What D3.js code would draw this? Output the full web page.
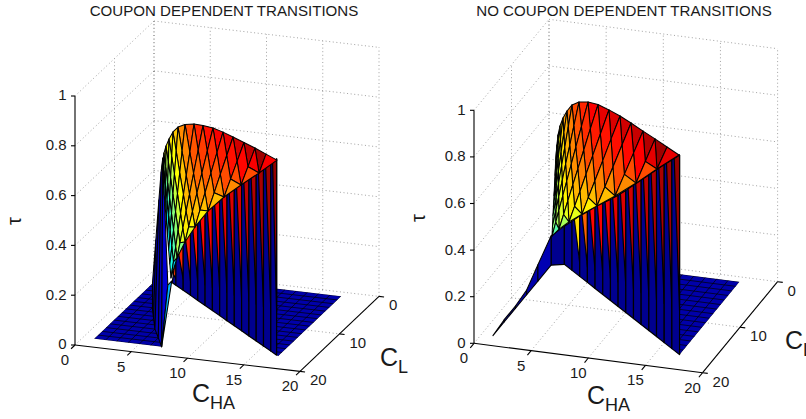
<!DOCTYPE html>
<html>
<head>
<meta charset="utf-8">
<script src="https://d3js.org/d3.v7.min.js"></script>
<style>
  body { margin: 0; background: #fff; }
  text { font-family: "Liberation Sans", Arial, sans-serif; fill: #1a1a1a; }
</style>
</head>
<body>
<svg id="chart" width="806" height="419"></svg>
<script>
const chaTicks = [0, 5, 10, 15, 20]
const clTicks = [0, 10, 20]
const tauTicks = [0, 0.2, 0.4, 0.6, 0.8, 1]

const sheetCL = 3
const leftSheetCHA = [
  [11.99],
  [11.01, 10.39],
  [10.03, 9.41, 8.79],
  [9.05, 8.44, 7.86, 7.28],
  [8.08, 7.52, 6.95, 6.40, 5.85],
  [7.19, 6.65, 6.11, 5.59, 5.14, 4.70],
  [6.30, 5.79, 5.31, 4.87, 4.47, 4.14, 3.81],
  [5.41, 4.98, 4.57, 4.21, 3.91, 3.62, 3.36, 3.10],
  [4.61, 4.24, 3.92, 3.67, 3.42, 3.20, 2.98, 2.78, 2.56],
  [3.81, 3.55, 3.34, 3.14, 2.97, 2.79, 2.64, 2.46],
  [3.19, 3.03, 2.87, 2.74, 2.61, 2.49, 2.36],
  [2.74, 2.63, 2.53, 2.44, 2.36, 2.26],
  [2.39, 2.33, 2.27, 2.22, 2.16],
  [2.12, 2.10, 2.08, 2.06],
  [1.94, 1.95, 1.96],
  [1.85, 1.86],
  [1.76]
]
const leftSheetTau = [
  [.550],
  [.569, .490],
  [.588, .510, .433],
  [.605, .526, .452, .377],
  [.622, .545, .466, .389, .313],
  [.637, .552, .467, .385, .313, .243],
  [.649, .553, .462, .380, .303, .241, .178],
  [.654, .553, .457, .371, .302, .232, .172, .110],
  [.656, .541, .445, .367, .289, .222, .153, .092, .027],
  [.650, .541, .453, .368, .294, .220, .154, .082],
  [.636, .538, .445, .364, .286, .216, .137],
  [.614, .515, .428, .347, .275, .192],
  [.584, .491, .407, .335, .247],
  [.554, .468, .395, .303],
  [.525, .454, .358],
  [.497, .413],
  [.468]
]
const leftRimHeat = [1, .97, .94, .92, .9, .88, .86, .84, .8, .74, .68, .65, .63, .62, .62, .61, .6]
const leftFrontHeat = [1, .88, .8, .74, .69, .64, .6, .5, .34, .33, .32, .31, .31, .3, .3, .3, .3]

const rightSheetCHA = [
  [12.36],
  [11.31, 10.43],
  [10.26, 9.41, 8.60],
  [9.21, 8.38, 7.58, 6.76],
  [8.16, 7.38, 6.58, 5.87, 5.18],
  [7.20, 6.41, 5.68, 4.99, 4.42, 3.87],
  [6.23, 5.48, 4.80, 4.22, 3.69, 3.22, 2.73],
  [5.27, 4.60, 4.02, 3.51, 3.07, 2.63, 2.26, 1.86],
  [4.40, 3.82, 3.33, 2.93, 2.53, 2.19, 1.84, 1.57, 1.25],
  [3.61, 3.16, 2.80, 2.44, 2.14, 1.83, 1.59, 1.29],
  [3.00, 2.67, 2.36, 2.09, 1.82, 1.61, 1.33],
  [2.56, 2.28, 2.04, 1.81, 1.62, 1.38],
  [2.21, 1.99, 1.79, 1.64, 1.42],
  [1.95, 1.78, 1.66, 1.47],
  [1.77, 1.68, 1.51],
  [1.68, 1.55],
  [1.60]
]
const rightSheetTau = [
  [.554],
  [.582, .482],
  [.610, .508, .410],
  [.637, .537, .441, .343],
  [.665, .567, .466, .376, .290],
  [.689, .585, .487, .396, .321, .247],
  [.709, .601, .503, .420, .343, .276, .206],
  [.726, .617, .522, .439, .368, .296, .235, .170],
  [.731, .622, .531, .454, .379, .315, .249, .197, .136],
  [.726, .621, .535, .452, .380, .307, .250, .180],
  [.710, .614, .523, .444, .365, .303, .224],
  [.681, .585, .499, .417, .353, .268],
  [.649, .556, .471, .405, .311],
  [.613, .525, .459, .355],
  [.573, .511, .399],
  [.530, .443],
  [.486]
]
const rightRimHeat = [1, .97, .95, .93, .92, .91, .9, .88, .84, .8, .76, .72, .68, .65, .63, .6, .58]
const rightFrontHeat = [1, .9, .8, .74, .69, .64, .6, .54, .46, .45, .44, .44, .43, .43, .42, .42, .42]

// wall under the front edge
const leftWallCHA = [2.5, 3, 4, 5, 6, 7, 8, 9, 10, 11, 12, 13, 14, 15, 16, 16.8]
const leftWallCL = [2.5, 3, 4, 5, 6, 7, 8, 9, 10, 11, 12, 13, 14, 15, 16, 16.8]
const leftWallTau = [0, .121, .198, .258, .315, .375, .42, .47, .515, .557, .594, .638, .673, .713, .755, .788]
const leftWallHeat = [.8, .82, .84, .85, .86, .87, .88, .89, .9, .91, .92, .94, .95, .96, .97, .98]

const rightWallCHA = [1, 2, 3, 4, 5, 6, 7, 8, 9, 10, 11, 12, 13, 14, 15, 16, 17]
const rightWallCL = [2.5, 2, 3, 4, 5, 6, 7, 8, 9, 10, 11, 12, 13, 14, 15, 16, 17]
const rightWallTau = [.125, .164, .211, .26, .303, .351, .392, .433, .477, .524, .572, .62, .668, .716, .764, .81, .857]
const rightWallHeat = [0, 0, 0, .66, .78, .87, .88, .89, .9, .91, .92, .93, .94, .95, .96, .97, .98]

// steep blue strips between the floor and the sheet
const leftCurtainCHA = [3.2, 4, 5, 6, 7, 7, 7]
const leftCurtainCL = [9.5, 11.5, 14, 16, 18, 18, 18]
const leftCurtainTopCHA = [3.2, 4.2, 5.35, 6.25, 7.1, 7.55, 7.9]
const leftCurtainTopTau = [.108, .316, .52, .668, .758, .25, .269]
const leftCurtainHeat = [.02, .03, .04, .05, .08, .3]

const rightCurtainCHA = [1, 1, 1, 1, 1, 1]
const rightCurtainCL = [18, 15, 12, 9, 6, 2.5]
const rightCurtainTopCHA = [1, 1, 1, 1, 1, 1]
const rightCurtainTopTau = [0, .01, .01, .02, .07, .125]
const rightCurtainHeat = [.02, .02, .02, .03, .04]

// floor outlines, [CHA, CL]
const leftFloors = [[[1, 18], [7, 18], [3.2, 9.5], [1, 3]], [[17, 17], [17, 1], [11, 1], [11, 11]]]
const rightFloors = [[[17, 17], [17, 1], [11, 1], [11, 11]]]

const redStart = 0.22 // red wedges stop this share of the way up the wall
const redWidth = 0.7 // and take up this share of a step at the top

const jet = d3.scaleLinear()
  .domain([0, .125, .375, .625, .875, 1])
  .range(['#00008f', '#0000ff', '#00ffff', '#ffff00', '#ff0000', '#800000'])
  .clamp(true)

const svg = d3.select('#chart')

function drawPanel(p) {
  const g = svg.append('g')

  // projected axes, all measured from CHA=0, CL=20, tau=0
  const xA = d3.scaleLinear().domain([0, 20]).range([0, p.chaVec[0]])
  const yA = d3.scaleLinear().domain([0, 20]).range([0, p.chaVec[1]])
  const xC = d3.scaleLinear().domain([20, 0]).range([0, p.clVec[0]])
  const yC = d3.scaleLinear().domain([20, 0]).range([0, p.clVec[1]])
  const yT = d3.scaleLinear().domain([0, 1]).range([0, -p.tauLen])
  const pt = (a, c, t) => [p.origin[0] + xA(a) + xC(c), p.origin[1] + yA(a) + yC(c) + yT(t)]
  const line = d3.line()
  const closed = d3.line().curve(d3.curveLinearClosed)

  // gridlines on the walls and the floor
  const grid = g.append('g').attr('fill', 'none').attr('stroke', '#8a8a8a')
    .attr('stroke-width', 0.8).attr('stroke-dasharray', '1 2.6')
  const gridLine = (a, b) => grid.append('path').attr('d', line([a, b]))
  tauTicks.forEach(t => {
    gridLine(pt(0, 20, t), pt(0, 0, t))
    gridLine(pt(0, 0, t), pt(20, 0, t))
  })
  chaTicks.forEach(a => {
    if (a > 0) gridLine(pt(a, 0, 0), pt(a, 0, 1))
    if (a > 0) gridLine(pt(a, 20, 0), pt(a, 0, 0))
  })
  gridLine(pt(0, 10, 0), pt(0, 10, 1))
  gridLine(pt(0, 10, 0), pt(20, 10, 0))
  grid.append('path').attr('d', line([pt(0, 0, 0), pt(0, 0, 1)])).attr('stroke', '#333')

  // floor
  p.floors.forEach((outline, n) => {
    const id = p.name + '-floor-' + n
    const shape = closed(outline.map(d => pt(d[0], d[1], 0)))
    g.append('clipPath').attr('id', id).append('path').attr('d', shape)
    const f = g.append('g').attr('clip-path', `url(#${id})`)
    f.append('path').attr('d', shape).attr('fill', jet(0.03))
    d3.range(1, 18).forEach(a => f.append('path').attr('d', line([pt(a, 1, 0), pt(a, 18, 0)]))
      .attr('stroke', '#000').attr('stroke-width', 0.7))
    d3.range(1, 19).forEach(c => f.append('path').attr('d', line([pt(1, c, 0), pt(17, c, 0)]))
      .attr('stroke', '#000').attr('stroke-width', 0.7))
  })

  const facet = (points, colour, w) => g.append('polygon')
    .attr('points', points.map(d => d.join(',')).join(' '))
    .attr('fill', colour).attr('stroke', '#000')
    .attr('stroke-width', w || 1.05).attr('stroke-linejoin', 'round')

  // wall: a blue panel per step with a red wedge hanging from the top
  p.wallCHA.slice(1).forEach((a, k) => {
    const b0 = pt(p.wallCHA[k], p.wallCL[k], 0), b1 = pt(a, p.wallCL[k + 1], 0)
    const t0 = pt(p.wallCHA[k], p.wallCL[k], p.wallTau[k]), t1 = pt(a, p.wallCL[k + 1], p.wallTau[k + 1])
    facet([b0, b1, t1, t0], jet(0), 1.2)
    if (p.wallHeat[k + 1] > 0) {
      const near = [t1[0] + (t0[0] - t1[0]) * redWidth, t1[1] + (t0[1] - t1[1]) * redWidth]
      facet([near, t1, pt(a, p.wallCL[k + 1], p.wallTau[k + 1] * redStart)], jet(p.wallHeat[k + 1]), 1.2)
    }
  })

  // curtain
  p.curtainHeat.forEach((h, k) => {
    facet([
      pt(p.curtainCHA[k], p.curtainCL[k], 0),
      pt(p.curtainCHA[k + 1], p.curtainCL[k + 1], 0),
      pt(p.curtainTopCHA[k + 1], p.curtainCL[k + 1], p.curtainTopTau[k + 1]),
      pt(p.curtainTopCHA[k], p.curtainCL[k], p.curtainTopTau[k])
    ], jet(h))
  })

  // sheet: row l holds crossings k = l .. min(16, 2l)
  const rows = p.sheetCHA.length
  const vertex = (l, k) => {
    if (l >= rows || k < l || k - l >= p.sheetCHA[l].length) return null
    return pt(p.sheetCHA[l][k - l], sheetCL, p.sheetTau[l][k - l])
  }
  const heatOf = (l, k) => {
    const n = p.sheetCHA[l].length - 1
    if (n === 0) return p.rimHeat[l]
    return d3.scaleLinear().domain([0, n]).range([p.rimHeat[l], p.frontHeat[l]])(k - l)
  }
  d3.range(rows - 1).reverse().forEach(l => {
    d3.range(l, rows - 1).forEach(k => {
      const corners = [vertex(l, k), vertex(l, k + 1), vertex(l + 1, k + 1), vertex(l + 1, k)].filter(d => d)
      if (corners.length > 2) facet(corners, jet(heatOf(l, k)))
    })
  })
  // tips along the front edge
  d3.range((rows - 1) / 2).forEach(l => {
    facet([vertex(l, 2 * l), vertex(l + 1, 2 * l + 1), vertex(l + 1, 2 * l + 2)], jet(p.frontHeat[l + 1]))
  })

  // axis lines and ticks
  const axes = g.append('g').attr('stroke', '#000').attr('fill', 'none').attr('stroke-width', 1.1)
  axes.append('path').attr('d', line([pt(0, 20, 0), pt(20, 20, 0)]))
  axes.append('path').attr('d', line([pt(20, 20, 0), pt(20, 0, 0)]))
  axes.append('path').attr('d', line([pt(0, 20, 0), pt(0, 20, 1)]))

  const labels = g.append('g').attr('font-size', 15)
  chaTicks.forEach(a => {
    axes.append('path').attr('d', line([pt(a, 20, 0), pt(a, 21, 0)]))
    const q = pt(a, 20, 0)
    labels.append('text').attr('x', q[0] + p.chaLabel[0]).attr('y', q[1] + p.chaLabel[1])
      .attr('text-anchor', 'middle').attr('dominant-baseline', 'middle').text(a)
  })
  clTicks.forEach(c => {
    const q = pt(20, c, 0)
    axes.append('path').attr('d', line([q, pt(20.45, c, 0)]))
    labels.append('text').attr('x', q[0] + p.clLabel[0]).attr('y', q[1] + p.clLabel[1])
      .attr('dominant-baseline', 'middle').text(c)
  })
  tauTicks.forEach(t => {
    const q = pt(0, 20, t)
    axes.append('path').attr('d', line([q, [q[0] - 4, q[1]]]))
    labels.append('text').attr('x', q[0] - 8.5).attr('y', q[1] + 0.5)
      .attr('text-anchor', 'end').attr('dominant-baseline', 'middle').text(t)
  })

  g.append('text').attr('x', p.titleX).attr('y', 16).attr('text-anchor', 'middle')
    .attr('font-size', 15.1).text(p.title)

  const sub = (pos, main, small) => {
    const t = g.append('text').attr('x', pos[0]).attr('y', pos[1]).attr('font-size', 25)
    t.append('tspan').text(main)
    t.append('tspan').attr('font-size', 18).attr('dy', 7).text(small)
  }
  sub(p.chaTitle, 'C', 'HA')
  sub(p.clTitle, 'C', 'L')
  g.append('text').attr('transform', `translate(${p.tauTitle[0]},${p.tauTitle[1]}) rotate(-90)`)
    .attr('text-anchor', 'middle').attr('font-size', 20).text('τ')
}

drawPanel({
  name: 'left', title: 'COUPON DEPENDENT TRANSITIONS', titleX: 224,
  origin: [75, 345], chaVec: [225, 26.4], clVec: [79, -75], tauLen: 249,
  sheetCHA: leftSheetCHA, sheetTau: leftSheetTau,
  rimHeat: leftRimHeat, frontHeat: leftFrontHeat,
  wallCHA: leftWallCHA, wallCL: leftWallCL, wallTau: leftWallTau, wallHeat: leftWallHeat,
  curtainCHA: leftCurtainCHA, curtainCL: leftCurtainCL, curtainTopCHA: leftCurtainTopCHA,
  curtainTopTau: leftCurtainTopTau, curtainHeat: leftCurtainHeat,
  floors: leftFloors,
  chaLabel: [-10, 16], clLabel: [10, 10],
  chaTitle: [192, 402], clTitle: [380, 366], tauTitle: [21, 221]
})

drawPanel({
  name: 'right', title: 'NO COUPON DEPENDENT TRANSITIONS', titleX: 624,
  origin: [474, 343.3], chaVec: [228.6, 29.4], clVec: [75, -91], tauLen: 233,
  sheetCHA: rightSheetCHA, sheetTau: rightSheetTau,
  rimHeat: rightRimHeat, frontHeat: rightFrontHeat,
  wallCHA: rightWallCHA, wallCL: rightWallCL, wallTau: rightWallTau, wallHeat: rightWallHeat,
  curtainCHA: rightCurtainCHA, curtainCL: rightCurtainCL, curtainTopCHA: rightCurtainTopCHA,
  curtainTopTau: rightCurtainTopTau, curtainHeat: rightCurtainHeat,
  floors: rightFloors,
  chaLabel: [-10, 16], clLabel: [10, 10],
  chaTitle: [587, 404], clTitle: [785, 349], tauTitle: [425, 218]
})
</script>
</body>
</html>
